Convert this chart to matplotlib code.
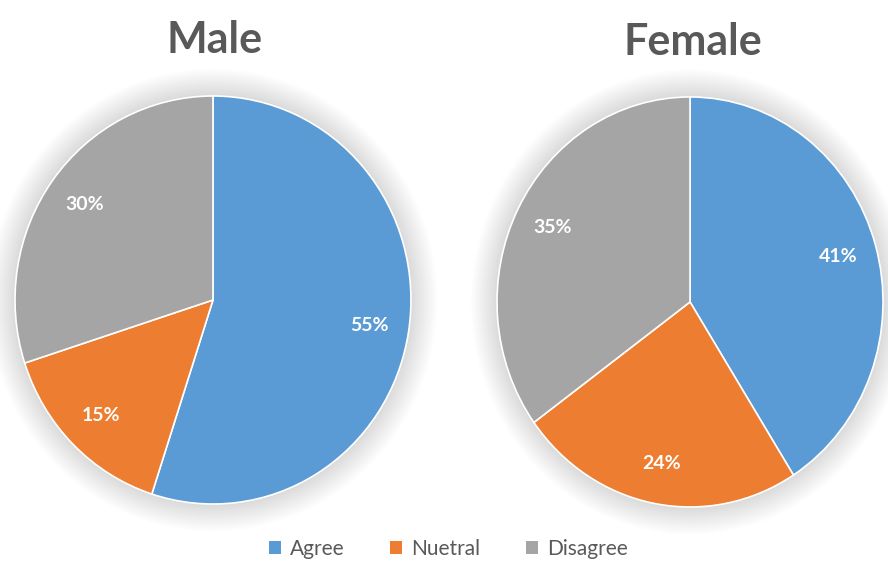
import matplotlib.pyplot as plt
from matplotlib.patches import Circle, Patch

plt.rcParams['font.family'] = ['Lato', 'DejaVu Sans']

categories = ["Agree", "Nuetral", "Disagree"]
male = [55, 15, 30]
female = [41, 24, 35]
colors = ["#5B9BD5", "#ED7D31", "#A5A5A5"]
text_gray = "#595959"


def draw_pie(ax, values):
    # soft glow behind the pie
    for k in range(12):
        ax.add_patch(Circle((0, 0), 1.0 + 0.011 * (k + 1), color="#808080",
                            alpha=0.022, lw=0, zorder=0, clip_on=False))
    wedges, texts, autotexts = ax.pie(
        values, colors=colors, startangle=90, counterclock=False,
        autopct="%d%%", pctdistance=0.8,
        wedgeprops=dict(edgecolor="white", linewidth=1.2),
        textprops=dict(color="white", fontsize=14, fontweight="bold"))
    for w in wedges:
        w.set_zorder(2)
    for t in autotexts:
        t.set_zorder(3)
    ax.set_xlim(-1, 1)
    ax.set_ylim(-1, 1)
    ax.set_aspect("auto")
    ax.axis("off")
    return wedges


fig = plt.figure(figsize=(8.88, 5.69), dpi=100)

# the source image is slightly stretched vertically, so the pies are ellipses
ax1 = fig.add_axes([0.0169, 0.1142, 0.4459, 0.7171])
draw_pie(ax1, male)
ax2 = fig.add_axes([0.5597, 0.1090, 0.4347, 0.7206])
draw_pie(ax2, female)

fig.text(215 / 888, 1 - 40 / 569, "Male", ha="center", va="center",
         fontsize=31, fontweight="bold", color=text_gray)
fig.text(693 / 888, 1 - 42 / 569, "Female", ha="center", va="center",
         fontsize=31, fontweight="bold", color=text_gray)

handles = [Patch(facecolor=c, edgecolor="none") for c in colors]
fig.legend(handles, categories, loc="center", bbox_to_anchor=(0.505, 1 - 549 / 569),
           ncol=3, frameon=False, fontsize=15, labelcolor=text_gray,
           handlelength=0.55, handleheight=0.55, handletextpad=0.45, columnspacing=2.2)

fig.savefig("out.png", dpi=100)
